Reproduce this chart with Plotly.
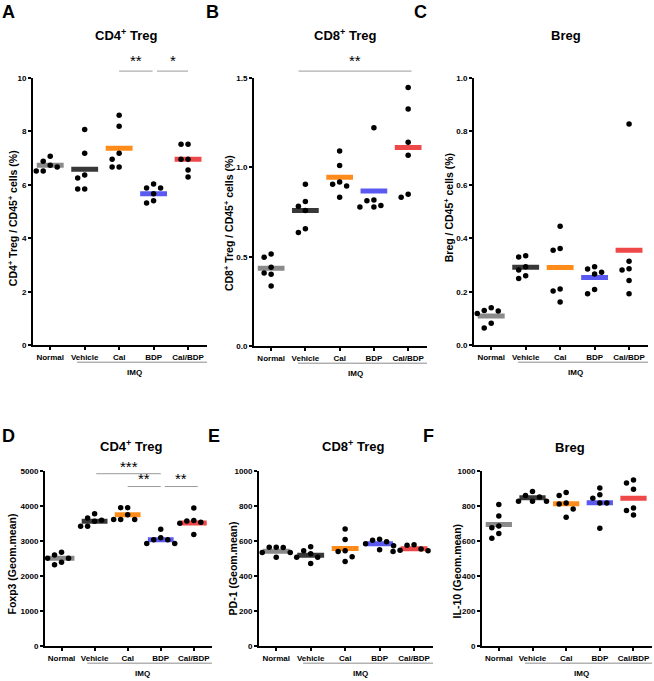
import plotly.graph_objects as go

W, H = 654, 681
FONT = "Liberation Sans, Arial, sans-serif"

groups = ["Normal", "Vehicle", "Cal", "BDP", "Cal/BDP"]
group_colors = ["#8a8a8a", "#383838", "#ff8c1a", "#5a5af2", "#ee4848"]

# ---- Panel A: CD4+ Treg / CD45+ cells (%)
a_values = [[7.07, 6.89, 6.74, 6.67, 6.52, 6.52],
            [8.07, 7.19, 6.37, 6.26, 5.85, 5.85],
            [8.61, 8.20, 7.19, 6.96, 6.67, 6.67],
            [6.04, 5.89, 5.89, 5.67, 5.33, 5.41],
            [7.52, 7.52, 6.96, 6.96, 6.56, 6.30]]
a_means = [6.74, 6.59, 7.37, 5.67, 6.96]
a_ticks = [0, 2, 4, 6, 8, 10]

# ---- Panel B: CD8+ Treg / CD45+ cells (%)
b_values = [[0.498, 0.517, 0.443, 0.410, 0.403, 0.338],
            [0.906, 0.810, 0.783, 0.759, 0.636, 0.658],
            [1.092, 1.011, 0.906, 0.897, 0.919, 0.834],
            [1.222, 0.818, 0.814, 0.788, 0.779, 0.779],
            [1.447, 1.327, 1.141, 1.068, 0.834, 0.851]]
b_means = [0.437, 0.759, 0.945, 0.869, 1.112]
b_ticks = [0.0, 0.5, 1.0, 1.5]

# ---- Panel C: Breg / CD45+ cells (%)
c_values = [[0.141, 0.129, 0.119, 0.131, 0.083, 0.065],
            [0.331, 0.335, 0.294, 0.282, 0.250, 0.261],
            [0.446, 0.356, 0.362, 0.211, 0.204, 0.162],
            [0.294, 0.286, 0.274, 0.267, 0.193, 0.209],
            [0.828, 0.315, 0.282, 0.287, 0.243, 0.193]]
c_means = [0.110, 0.292, 0.291, 0.254, 0.356]
c_ticks = [0.0, 0.2, 0.4, 0.6, 0.8, 1.0]

# ---- Panel D: Foxp3 (Geom.mean)
d_values = [[2679, 2603, 2509, 2509, 2321, 2397],
            [3778, 3656, 3590, 3562, 3421, 3421],
            [3947, 3947, 3750, 3609, 3609, 3609],
            [3336, 3092, 3036, 3036, 2932, 2932],
            [3938, 3581, 3571, 3534, 3506, 3186]]
d_means = [2509, 3562, 3750, 3036, 3515]
d_ticks = [0, 1000, 2000, 3000, 4000, 5000]

# ---- Panel E: PD-1 (Geom.mean)
e_values = [[565, 563, 565, 535, 535, 507],
            [567, 545, 528, 507, 507, 472],
            [668, 608, 545, 540, 511, 483],
            [610, 605, 596, 585, 573, 550],
            [578, 576, 555, 548, 545, 540]]
e_means = [542, 519, 558, 584, 556]
e_ticks = [0, 200, 400, 600, 800, 1000]

# ---- Panel F: IL-10 (Geom.mean)
f_values = [[808, 742, 686, 675, 643, 615],
            [882, 859, 850, 827, 827, 827],
            [876, 859, 810, 816, 782, 735],
            [902, 863, 844, 816, 816, 673],
            [947, 930, 895, 788, 774, 748]]
f_means = [694, 846, 812, 818, 844]
f_ticks = [0, 200, 400, 600, 800, 1000]

panels = [
    dict(letter="A", title="CD4<sup>+</sup> Treg", ytitle="CD4<sup>+</sup> Treg / CD45<sup>+</sup> cells (%)",
         values=a_values, means=a_means, ticks=a_ticks, fmt="{:g}",
         box=(33, 207, 75, 346), letter_xy=(8.5, 8), title_xy=(126, 31), ytitle_xy=(12, 217)),
    dict(letter="B", title="CD8<sup>+</sup> Treg", ytitle="CD8<sup>+</sup> Treg / CD45<sup>+</sup> cells (%)",
         values=b_values, means=b_means, ticks=b_ticks, fmt="{:.1f}",
         box=(254, 427, 75, 347), letter_xy=(212, 8), title_xy=(345, 31), ytitle_xy=(228, 222)),
    dict(letter="C", title="Breg", ytitle="Breg / CD45<sup>+</sup> cells (%)",
         values=c_values, means=c_means, ticks=c_ticks, fmt="{:.1f}",
         box=(474, 648, 75, 346), letter_xy=(420, 8), title_xy=(566, 32), ytitle_xy=(448, 207)),
    dict(letter="D", title="CD4<sup>+</sup> Treg", ytitle="Foxp3 (Geom.mean)",
         values=d_values, means=d_means, ticks=d_ticks, fmt="{:g}",
         box=(45, 212, 473, 651), letter_xy=(8.5, 438), title_xy=(131, 448), ytitle_xy=(12, 568)),
    dict(letter="E", title="CD8<sup>+</sup> Treg", ytitle="PD-1 (Geom.mean)",
         values=e_values, means=e_means, ticks=e_ticks, fmt="{:g}",
         box=(259, 433, 473, 651), letter_xy=(214, 438), title_xy=(353, 448), ytitle_xy=(233, 572)),
    dict(letter="F", title="Breg", ytitle="IL-10 (Geom.mean)",
         values=f_values, means=f_means, ticks=f_ticks, fmt="{:g}",
         box=(482, 652, 473, 651), letter_xy=(428, 438), title_xy=(570, 449), ytitle_xy=(457, 575)),
]

XR = [-0.5, 4.55]


def fx(px):
    return px / W


def fy(py):
    return 1 - py / H


def swarm(vals, ppx, ppy, d=7.0):
    """Simple beeswarm: horizontal pixel offsets avoiding overlap."""
    order = sorted(range(len(vals)), key=lambda i: -vals[i])
    placed = []
    offs = [0.0] * len(vals)
    for i in order:
        y = vals[i] * ppy
        for k in [0, -1, 1, -2, 2, -3, 3]:
            x = k * d
            if all((x - px) ** 2 + (y - py) ** 2 >= (d * 0.97) ** 2 for px, py in placed):
                break
        placed.append((x, y))
        offs[i] = x / ppx
    return offs


fig = go.Figure()
annotations = []
shapes = []
layout_axes = {}

for n, p in enumerate(panels):
    k = "" if n == 0 else str(n + 1)
    xa, ya = "x" + k, "y" + k
    x0, x1, yt, yb = p["box"]
    ymax = p["ticks"][-1]
    ppx = (x1 - x0) / (XR[1] - XR[0])
    ppy = (yb - yt) / ymax

    # mean bars
    for g in range(5):
        fig.add_trace(go.Scatter(
            x=[g - 0.39, g + 0.39], y=[p["means"][g], p["means"][g]],
            mode="lines", line=dict(color=group_colors[g], width=5),
            xaxis=xa, yaxis=ya, showlegend=False, hoverinfo="skip"))
    # points
    for g in range(5):
        vals = p["values"][g]
        offs = swarm(vals, ppx, ppy)
        fig.add_trace(go.Scatter(
            x=[g + o for o in offs], y=vals, mode="markers",
            marker=dict(color="black", size=5.5),
            xaxis=xa, yaxis=ya, showlegend=False, name=groups[g]))

    layout_axes["xaxis" + k] = dict(
        domain=[fx(x0), fx(x1)], anchor=ya, range=XR,
        tickvals=list(range(5)), ticktext=groups, ticks="outside", ticklen=3,
        tickwidth=1.5, tickcolor="black",
        showline=True, linecolor="black", linewidth=2, showgrid=False, zeroline=False,
        tickfont=dict(family=FONT, size=8, color="black", weight=700), fixedrange=True)
    layout_axes["yaxis" + k] = dict(
        domain=[fy(yb), fy(yt)], anchor=xa, range=[0, ymax],
        tickvals=p["ticks"], ticktext=[p["fmt"].format(t) for t in p["ticks"]],
        ticks="outside", ticklen=3, tickwidth=1.5, tickcolor="black",
        showline=True, linecolor="black", linewidth=2, showgrid=False, zeroline=False,
        tickfont=dict(family=FONT, size=8, color="black", weight=700), fixedrange=True)

    # panel letter
    annotations.append(dict(text=p["letter"], x=fx(p["letter_xy"][0]), y=fy(p["letter_xy"][1]),
                            xref="paper", yref="paper", showarrow=False,
                            xanchor="center", yanchor="middle",
                            font=dict(family=FONT, size=18, color="black", weight=700)))
    # title
    annotations.append(dict(text=p["title"], x=fx(p["title_xy"][0]), y=fy(p["title_xy"][1]),
                            xref="paper", yref="paper", showarrow=False,
                            xanchor="center", yanchor="middle",
                            font=dict(family=FONT, size=13, color="black", weight=700)))
    # y title
    annotations.append(dict(text=p["ytitle"], x=fx(p["ytitle_xy"][0]), y=fy(p["ytitle_xy"][1]),
                            xref="paper", yref="paper", showarrow=False, textangle=-90,
                            xanchor="center", yanchor="middle",
                            font=dict(family=FONT, size=10.5, color="black", weight=700)))
    # IMQ bracket
    shapes.append(dict(type="line", xref=xa, yref="paper", x0=0.78, x1=XR[1],
                       y0=fy(yb + 17), y1=fy(yb + 17), line=dict(color="#8c8c8c", width=1)))
    annotations.append(dict(text="IMQ", x=2.45, y=fy(yb + 27), xref=xa, yref="paper",
                            showarrow=False, xanchor="center", yanchor="middle",
                            font=dict(family=FONT, size=8, color="black", weight=700)))


def sig(axis_k, xa0, xa1, ypaper_line, stars, star_gap=3):
    shapes.append(dict(type="line", xref="x" + axis_k, yref="paper", x0=xa0, x1=xa1,
                       y0=ypaper_line, y1=ypaper_line, line=dict(color="#9a9a9a", width=1)))
    annotations.append(dict(text=stars, x=(xa0 + xa1) / 2, y=ypaper_line + star_gap / H,
                            xref="x" + axis_k, yref="paper", showarrow=False,
                            xanchor="center", yanchor="bottom",
                            font=dict(family=FONT, size=15, color="black")))


# A significance
sig("", 2.0, 2.97, fy(68), "**", 0)
sig("", 3.1, 4.0, fy(68), "*", 0)
# B significance
sig("2", 0.8, 4.1, fy(68), "**", 0)
# D significance
sig("4", 1.05, 3.0, fy(476), "***", -3)
sig("4", 2.0, 3.0, fy(489), "**", -3)
sig("4", 3.12, 4.12, fy(489), "**", -3)

fig.update_layout(
    width=W, height=H, margin=dict(l=0, r=0, t=0, b=0),
    paper_bgcolor="white", plot_bgcolor="white",
    annotations=annotations, shapes=shapes, showlegend=False,
    **layout_axes)

fig.write_html(
    "out.html",
    config={"displayModeBar": False},
    post_script="document.body.style.margin='0px';"
                "document.documentElement.style.overflow='hidden';"
                "document.body.style.overflow='hidden';")
